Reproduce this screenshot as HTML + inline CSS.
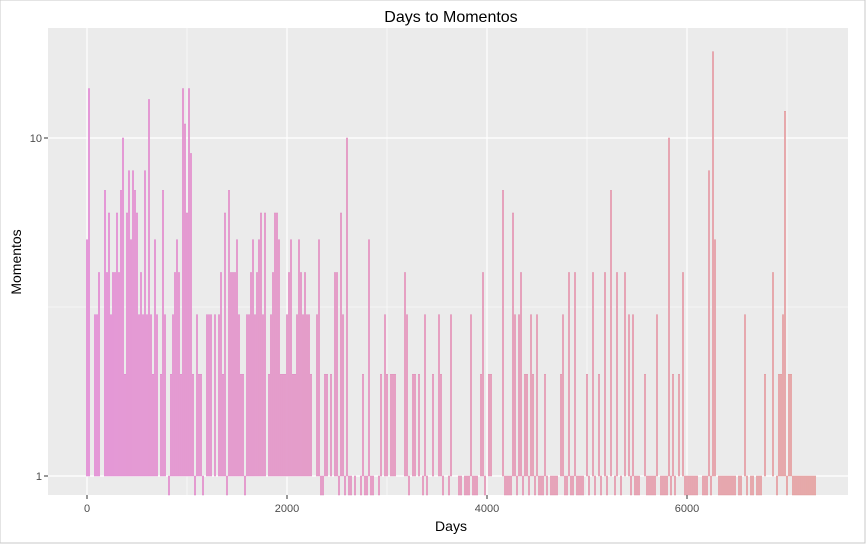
<!DOCTYPE html>
<html><head><meta charset="utf-8">
<style>
body{margin:0;background:#fff;}
svg{display:block;font-family:"Liberation Sans",sans-serif;}
</style></head>
<body>
<svg id="chart" width="866" height="544" viewBox="0 0 866 544" xmlns="http://www.w3.org/2000/svg">
<rect x="0" y="0" width="865" height="543" fill="#fff" stroke="#c8c8c8" stroke-width="1"/>
<text x="451" y="22" text-anchor="middle" font-size="16" fill="#000">Days to Momentos</text>
<rect x="48" y="28" width="800" height="467" fill="#ebebeb"/>
<g id="grid"></g>
<g id="bars"></g>
<g id="axes"></g>
<text x="451" y="531" text-anchor="middle" font-size="14" fill="#000">Days</text>
<text x="21" y="262" text-anchor="middle" font-size="14" fill="#000" transform="rotate(-90 21 262)">Momentos</text>
</svg>
<script>
const binWidthDays = [20];
const counts = [5,14,0,0,3,3,4,0,0,7,4,6,3,4,4,6,4,7,10,2,6,8,5,8,7,6,3,4,3,8,3,13,3,2,5,3,0,2,7,3,0,1,2,3,4,5,4,2,14,11,6,14,9,2,1,3,2,2,1,0,
3,3,3,0,3,0,3,4,2,6,1,7,4,4,4,5,3,2,2,1,3,3,4,5,3,4,5,6,3,6,0,2,3,4,6,6,5,2,2,2,3,4,5,2,2,3,5,4,3,4,3,3,2,0,0,3,5,1,1,2,2,0,
2,0,4,4,1,6,3,1,10,1,1,0,1,0,0,1,2,1,1,5,1,1,0,0,1,2,0,3,2,0,2,2,2,0,0,0,0,4,3,1,0,2,2,0,2,0,1,3,1,0,0,2,0,0,3,2,1,0,0,1,3,0,0,
0,1,1,0,1,1,1,3,1,1,1,0,2,4,1,0,2,2,0,0,0,0,0,7,1,1,1,1,6,3,1,3,4,1,2,2,1,3,2,1,3,1,1,1,2,1,0,1,1,1,1,0,2,3,1,1,4,1,1,4,1,1,
1,1,0,2,1,0,4,1,0,2,1,0,4,1,0,7,0,1,4,0,1,0,4,0,3,1,3,1,1,1,0,0,2,1,1,1,1,1,3,0,1,1,1,1,10,1,2,1,0,2,0,4,1,1,1,1,1,1,1,0,0,1,1,1,8,1,18,5,0,1,1,1,1,1,1,1,1,1,0,1,1,0,3,1,0,1,1,0,1,1,1,0,2,0,0,0,4,0,1,2,2,3,12,1,2,2,1,1,1,1,1,1,1,1,1,1,1,1];
const xTicks = [0,2000,4000,6000];
const xMinor = [1000,3000,5000,7000];
const yTicks = [1,10];
const yMinor = [Math.sqrt(10)];

const NS="http://www.w3.org/2000/svg";
const X = d => 87 + d*0.1;
const Y = v => 476 - 338*Math.log10(v);
function mk(tag, attrs, parent){const e=document.createElementNS(NS,tag);for(const k in attrs)e.setAttribute(k,attrs[k]);parent.appendChild(e);return e;}
const grid=document.getElementById('grid'), bars=document.getElementById('bars'), axes=document.getElementById('axes');
xMinor.forEach(d=>{const l=mk('line',{x1:X(d),x2:X(d),y1:28,y2:495,stroke:'#fff','stroke-width':0.6},grid);

});
yMinor.forEach(v=>{const l=mk('line',{x1:48,x2:848,y1:Y(v),y2:Y(v),stroke:'#fff','stroke-width':0.6},grid);

});
xTicks.forEach(d=>{const l=mk('line',{x1:X(d),x2:X(d),y1:28,y2:495,stroke:'#fff','stroke-width':1.2},grid);


const t=mk('line',{x1:X(d),x2:X(d),y1:495,y2:499,stroke:'#333','stroke-width':1},axes);


const tx=mk('text',{x:X(d),y:512,'text-anchor':'middle','font-size':11,fill:'#4d4d4d'},axes);tx.textContent=d;

});
yTicks.forEach(v=>{const l=mk('line',{x1:48,x2:848,y1:Y(v),y2:Y(v),stroke:'#fff','stroke-width':1.2},grid);


const t=mk('line',{x1:44,x2:48,y1:Y(v),y2:Y(v),stroke:'#333','stroke-width':1},axes);


const tx=mk('text',{x:42,y:Y(v)+4,'text-anchor':'end','font-size':11,fill:'#4d4d4d'},axes);tx.textContent=v;

});
const bw=binWidthDays[0];
counts.forEach((c,i)=>{
  if(c<=0) return;
  const x0=X(i*bw)-1, w=X(bw)-X(0);
  let y0,y1;
  if(c===1){y0=Y(1);y1=495;}else{y0=Y(c);y1=Y(1);}
  const f=i/counts.length;
  const fill=`rgb(${Math.round(238+f*2)},${Math.round(172+f*14)},${Math.round(222-f*36)})`;
  const stroke=`rgb(${Math.round(218+f*4)},${Math.round(118+f*24)},${Math.round(206-f*66)})`;
  const r=mk('rect',{x:x0+0.4,y:y0,width:w-0.8,height:y1-y0,fill:fill,stroke:stroke,'stroke-width':0.5},bars);
  
  
});
</script>
</body></html>
